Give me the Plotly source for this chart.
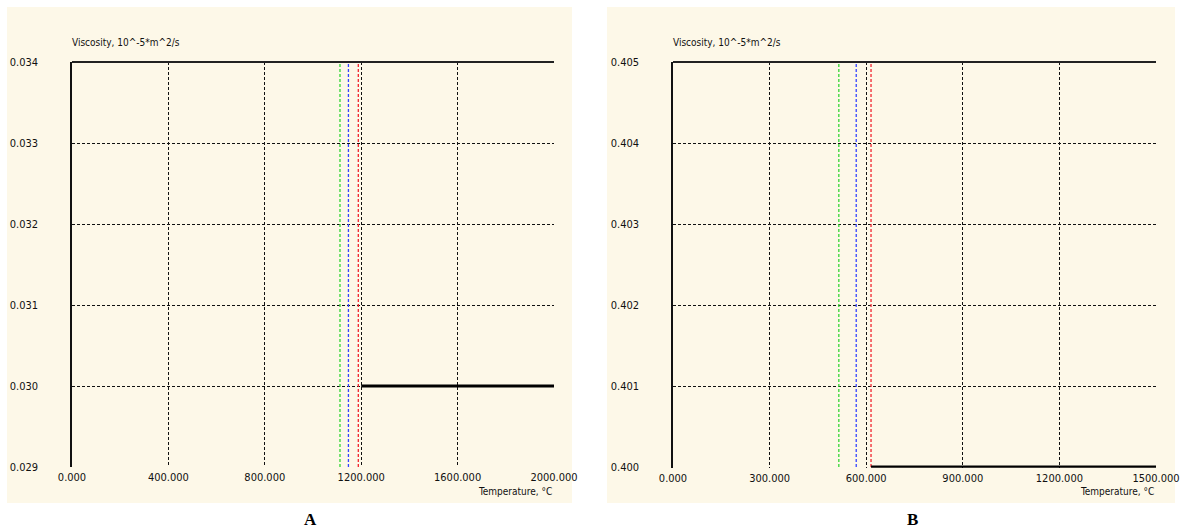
import plotly.graph_objects as go

# --- data -----------------------------------------------------------------
# Panel A: viscosity (10^-5 m^2/s) vs temperature (°C)
a_temp = [1200, 2000]
a_visc = [0.030, 0.030]
a_marker_temps = [1112, 1147, 1188]          # green, blue, red reference temperatures
a_x_ticks = [0, 400, 800, 1200, 1600, 2000]
a_y_ticks = [0.029, 0.030, 0.031, 0.032, 0.033, 0.034]

# Panel B
b_temp = [615, 1500]
b_visc = [0.400, 0.400]
b_marker_temps = [515, 569, 615]
b_x_ticks = [0, 300, 600, 900, 1200, 1500]
b_y_ticks = [0.400, 0.401, 0.402, 0.403, 0.404, 0.405]

marker_colors = ["#33d633", "#3344ff", "#f0252e"]
panel_letters = ["A", "B"]

W, H = 1182, 531
CREAM = "#fdf8e8"
FONT = "DejaVu Sans Condensed, Liberation Sans Narrow, Arial Narrow, sans-serif"

fig = go.Figure()


def px_x(p):
    return p / W


def px_y(p):
    return 1 - p / H


panels = [
    dict(temp=a_temp, visc=a_visc, marks=a_marker_temps, xt=a_x_ticks, yt=a_y_ticks,
         xdom=(72, 554), cream=(7, 572), xa="x", ya="y", ylo_pad=0.0),
    dict(temp=b_temp, visc=b_visc, marks=b_marker_temps, xt=b_x_ticks, yt=b_y_ticks,
         xdom=(673, 1156), cream=(607, 1175), xa="x2", ya="y2", ylo_pad=0.00001),
]

top_px, bot_px = 62, 467

for i, p in enumerate(panels):
    xa, ya = p["xa"], p["ya"]
    ymin, ymax = p["yt"][0] - p["ylo_pad"], p["yt"][-1]
    # colored reference lines
    for t, c in zip(p["marks"], marker_colors):
        fig.add_trace(go.Scatter(
            x=[t, t], y=[p["yt"][0], p["yt"][-1]], mode="lines",
            line=dict(color=c, width=1.3, dash="3px,2px"),
            xaxis=xa, yaxis=ya, showlegend=False, hoverinfo="skip"))
    # viscosity curve
    fig.add_trace(go.Scatter(
        x=p["temp"], y=p["visc"], mode="lines",
        line=dict(color="black", width=3.2),
        xaxis=xa, yaxis=ya, showlegend=False))

    # cream panel background
    fig.add_shape(type="rect", xref="paper", yref="paper",
                  x0=px_x(p["cream"][0]), x1=px_x(p["cream"][1]),
                  y0=px_y(503), y1=px_y(7),
                  fillcolor=CREAM, line=dict(width=0), layer="below")
    # solid frame on the top edge
    fig.add_shape(type="line", xref=f"{xa} domain", yref=f"{ya} domain",
                  x0=0, x1=1, y0=1, y1=1, line=dict(color="#222", width=2))

    # titles
    fig.add_annotation(text="Viscosity, 10^-5*m^2/s", xref="paper", yref="paper",
                       x=px_x(p["xdom"][0] - 2), y=px_y(43), xanchor="left", yanchor="middle",
                       showarrow=False, font=dict(family=FONT, size=10, color="#111"))
    fig.add_annotation(text="Temperature, °C", xref="paper", yref="paper",
                       x=px_x(p["xdom"][1] + 0), y=px_y(491), xanchor="right", yanchor="middle",
                       showarrow=False, font=dict(family=FONT, size=10, color="#111"))
    fig.add_annotation(text=f"<b>{panel_letters[i]}</b>", xref="paper", yref="paper",
                       x=px_x((p["cream"][0] + p["cream"][1]) / 2 + 21), y=px_y(519),
                       xanchor="center", yanchor="middle", showarrow=False,
                       font=dict(family="Liberation Serif, Times New Roman, serif", size=17, color="black"))

    # axes
    bot_adj = bot_px + (p["ylo_pad"] / (p["yt"][-1] - p["yt"][0])) * (bot_px - top_px)
    xkey = "xaxis" if i == 0 else "xaxis2"
    ykey = "yaxis" if i == 0 else "yaxis2"
    fig.update_layout(**{
        xkey: dict(domain=[px_x(p["xdom"][0]), px_x(p["xdom"][1])],
                   anchor=ya, range=[p["xt"][0], p["xt"][-1]],
                   tickvals=p["xt"], tickformat=".3f", automargin=False,
                   showgrid=True, gridcolor="#111", gridwidth=1, griddash="3px,2px",
                   zeroline=False, showline=False, ticks="",
                   tickfont=dict(family=FONT, size=11, color="#111"),
                   ticklabelstandoff=2),
        ykey: dict(domain=[px_y(bot_adj), px_y(top_px)],
                   anchor=xa, range=[ymin, ymax],
                   tickvals=p["yt"], tickformat=".3f", automargin=False,
                   showgrid=True, gridcolor="#111", gridwidth=1, griddash="3px,2px",
                   zeroline=False, showline=True, linecolor="#111", linewidth=1.5,
                   ticks="", tickfont=dict(family=FONT, size=11, color="#111"),
                   ticklabelstandoff=30),
    })

fig.update_layout(
    width=W, height=H, margin=dict(l=0, r=0, t=0, b=0),
    paper_bgcolor="white", plot_bgcolor="rgba(0,0,0,0)",
)

fig.write_html("out.html")
